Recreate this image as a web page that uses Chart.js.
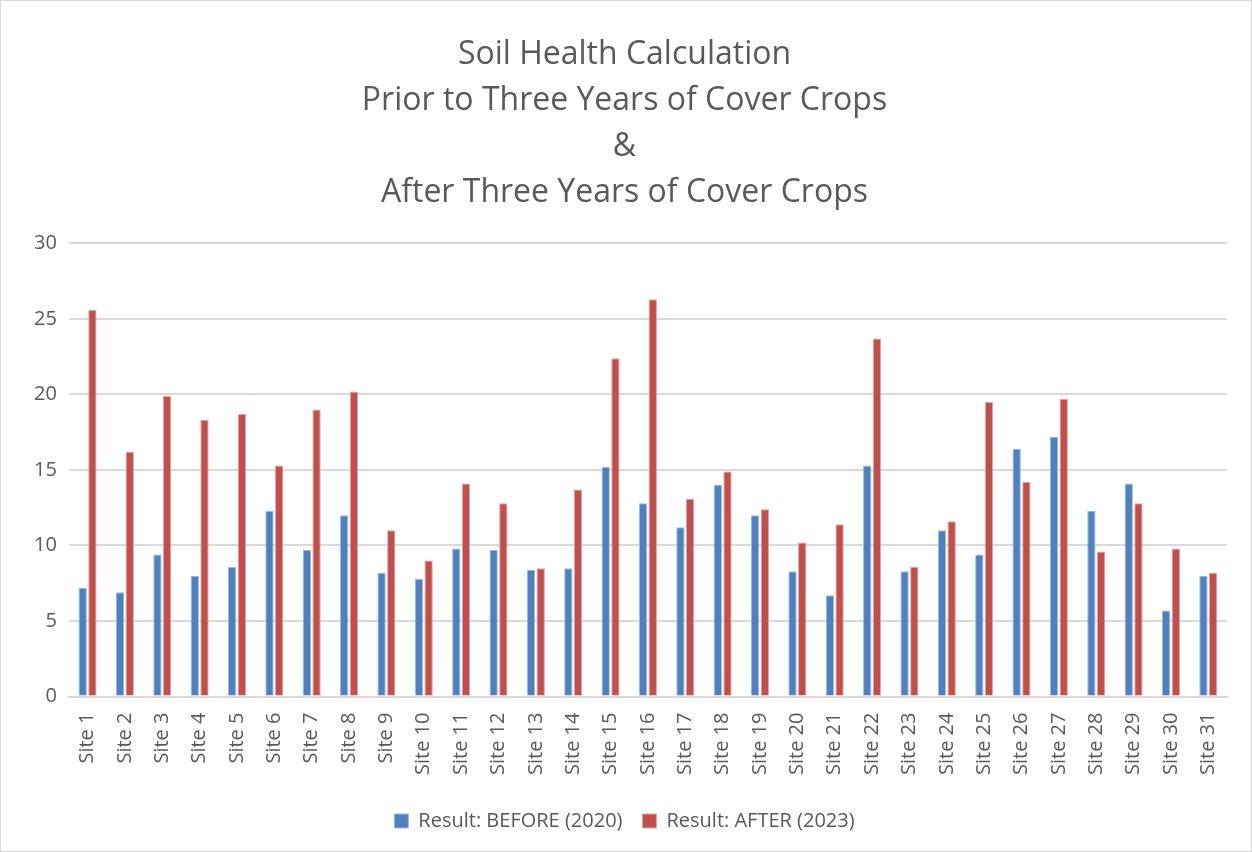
<!DOCTYPE html>
<html>
<head>
<meta charset="utf-8">
<title>Soil Health Calculation</title>
<script src="https://cdn.jsdelivr.net/npm/chart.js@4"></script>
<style>
  html, body { margin: 0; padding: 0; background: #fff; }
  #wrap { position: absolute; left: 0; top: 0; width: 1250px; height: 850px; border: 1px solid #d9d9d9; }
  #grafico { display: block; }
</style>
</head>
<body>
<div id="wrap"><canvas id="grafico" width="1250" height="850"></canvas></div>
<script>
// Datos
const sites = [];
for (let i = 1; i <= 31; i++) sites.push("Site " + i);

const before2020 = [7.2, 6.9, 9.4, 8.0, 8.6, 12.3, 9.7, 12.0, 8.2, 7.8,
  9.8, 9.7, 8.4, 8.5, 15.2, 12.8, 11.2, 14.0, 12.0, 8.3,
  6.7, 15.3, 8.3, 11.0, 9.4, 16.4, 17.2, 12.3, 14.1, 5.7, 8.0];

const after2023 = [25.6, 16.2, 19.9, 18.3, 18.7, 15.3, 19.0, 20.2, 11.0, 9.0,
  14.1, 12.8, 8.5, 13.7, 22.4, 26.3, 13.1, 14.9, 12.4, 10.2,
  11.4, 23.7, 8.6, 11.6, 19.5, 14.2, 19.7, 9.6, 12.8, 9.8, 8.2];

const titulo = [
  "Soil Health Calculation",
  "Prior to Three Years of Cover Crops",
  "&",
  "After Three Years of Cover Crops"
];

const fuente = "'Open Sans', 'Noto Sans', sans-serif";
const gris = "#595959";

const ctx = document.getElementById("grafico").getContext("2d");

const chart = new Chart(ctx, {
  type: "bar",
  data: {
    labels: sites,
    datasets: [
      {
        label: "Result: BEFORE (2020)",
        data: before2020,
        backgroundColor: "#4F81BD",
        borderColor: "#9db8dc",
        borderWidth: 1,
        barPercentage: 0.86,
        categoryPercentage: 0.52,
      },
      {
        label: "Result: AFTER (2023)",
        data: after2023,
        backgroundColor: "#C0504D",
        borderColor: "#e0a3a1",
        borderWidth: 1,
        barPercentage: 0.86,
        categoryPercentage: 0.52,
      },
    ],
  },
  options: {
    responsive: false,
    animation: false,
    layout: { padding: { left: 21, right: 24, top: 31, bottom: 10 } },
    plugins: {
      title: {
        display: true,
        text: titulo,
        color: gris,
        font: { family: fuente, size: 32, weight: "normal", lineHeight: 1.44 },
        padding: { top: 0, bottom: 27 },
      },
      legend: {
        position: "bottom",
        labels: {
          color: gris,
          font: { family: fuente, size: 20 },
          boxWidth: 14,
          boxHeight: 14,
          padding: 20,
        },
      },
      tooltip: { enabled: false },
    },
    scales: {
      x: {
        grid: { display: false, drawTicks: false },
        border: { color: "#d9d9d9", width: 2 },
        ticks: {
          color: gris,
          font: { family: fuente, size: 20 },
          minRotation: 90,
          maxRotation: 90,
          autoSkip: false,
          padding: 16,
        },
      },
      y: {
        min: 0,
        max: 30,
        ticks: {
          stepSize: 5,
          color: gris,
          font: { family: fuente, size: 20 },
          padding: 12,
        },
        grid: { color: "#d9d9d9", lineWidth: 2, drawTicks: false },
        border: { display: false },
      },
    },
  },
});
</script>
</body>
</html>
